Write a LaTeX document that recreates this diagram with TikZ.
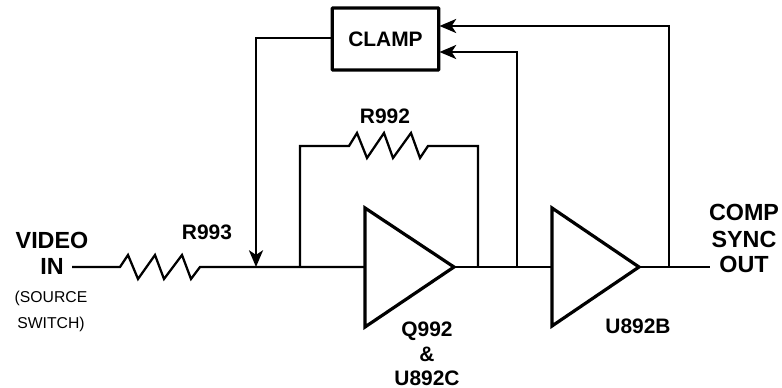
\documentclass[tikz,border=0pt]{standalone}
\usepackage{fontspec}
\setmainfont{Liberation Sans}
\usetikzlibrary{arrows.meta}
\tikzset{
  wire/.style={line width=1.7pt,line join=miter},
  heavy/.style={line width=2.4pt,line join=miter},
  tip/.style={-{Stealth[length=12.5pt,width=10.5pt,inset=3.4pt]}},
  lbl/.style={anchor=base,inner sep=0pt,font=\fontsize{15.7pt}{18pt}\bfseries},
  big/.style={anchor=base,inner sep=0pt,font=\fontsize{17.5pt}{20pt}\bfseries},
  small/.style={anchor=base,inner sep=0pt,font=\fontsize{11.8pt}{14pt}\selectfont},
  ampbox/.style={heavy,line join=miter},
  clampbox/.style={draw,line width=2.4pt,minimum width=80pt,minimum height=46.5pt,inner sep=0pt,rounded corners=0.6pt,font=\fontsize{15.7pt}{18pt}\bfseries}
}
\begin{document}
\begin{tikzpicture}[x=0.75pt,y=-0.75pt]
\useasboundingbox (0,0) rectangle (782,388);
% labels
\node[big] (lvideo) at (52,249) {VIDEO};
\node[big] (lin) at (52,275) {IN};
\node[small] (lsrc) at (51,302.5) {(SOURCE};
\node[small] (lsw) at (51,328.5) {SWITCH)};
\node[lbl] (lr3) at (207,239.5) {R993};
\node[lbl] (lr2) at (385,123.5) {R992};
\node[lbl] (lq) at (427,336.5) {Q992};
\node[lbl] (lamp) at (427,361.5) {\&};
\node[lbl] (lu) at (427,385.5) {U892C};
\node[lbl] (lub) at (638,333.5) {U892B};
\node[big] (lcomp) at (744,221) {COMP};
\node[big] (lsync) at (744,248) {SYNC};
\node[big] (lout) at (744,273) {OUT};
% block
\node[clampbox] (clamp) at (385.5,39) {CLAMP};
% junctions and ends
\coordinate (vin) at (72,267);
\coordinate (r3a) at (120,267);
\coordinate (r3b) at (200,267);
\coordinate (jclamp) at (256,267);
\coordinate (j2) at (300,267);
\coordinate (a1in) at (365,267);
\coordinate (a1top) at (365,208);
\coordinate (a1bot) at (365,327);
\coordinate (a1out) at (454,267);
\coordinate (j3) at (478,267);
\coordinate (j4) at (517,267);
\coordinate (a2in) at (552,267);
\coordinate (a2top) at (552,208);
\coordinate (a2bot) at (552,326);
\coordinate (a2out) at (639,267);
\coordinate (j5) at (669,267);
\coordinate (vout) at (710,267);
\coordinate (r2a) at (349,146);
\coordinate (r2b) at (428,146);
\coordinate (t1) at (439.5,26);
\coordinate (t2) at (439.5,52);
% main line
\draw[wire] (vin) -- (r3a) -- ++(8,-12) -- ++(10,24) -- ++(17,-24) -- ++(9,24) -- ++(18,-24) -- ++(9,24) -- (r3b)
  -- (jclamp) -- (j2) -- (a1in);
\draw[wire] (a1out) -- (j3) -- (j4) -- (a2in);
\draw[wire] (a2out) -- (j5) -- (vout);
% R992 feedback
\draw[wire] (j2) |- (r2a) -- ++(8,-13) -- ++(10,25) -- ++(17,-25) -- ++(9,25) -- ++(18,-25) -- ++(9,25) -- (r2b) -| (j3);
% amplifiers
\draw[ampbox] (a1top) -- (a1out) -- (a1bot) -- cycle;
\draw[ampbox] (a2top) -- (a2out) -- (a2bot) -- cycle;
% clamp loops
\draw[wire,tip] (clamp.west |- 0,38) -| (jclamp);
\draw[wire,tip] (j4) |- (t2);
\draw[wire,tip] (j5) |- (t1);
\end{tikzpicture}
\end{document}
